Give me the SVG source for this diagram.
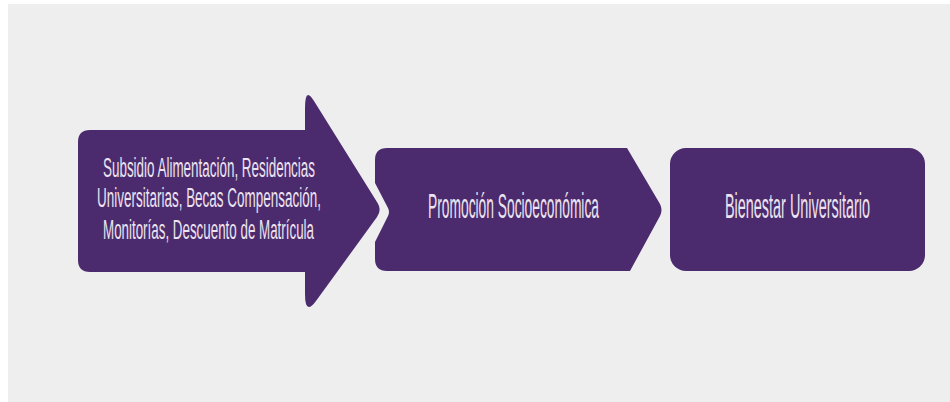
<svg xmlns="http://www.w3.org/2000/svg" width="950" height="402" viewBox="0 0 950 402">
  <style>
    .shape { fill: #4b2a6d; }
    .lbl { fill: #ebe3ef; font-family: "Liberation Sans Narrow", "Liberation Sans", sans-serif; }
    .s1 { font-size: 28px; }
    .s2 { font-size: 35px; }
  </style>
  <rect x="0" y="0" width="950" height="402" fill="#ffffff"/>
  <rect x="8" y="4" width="942" height="398" fill="#eeeeee"/>
  <g id="connectors"></g>
  <g id="node-subsidios">
    <path class="shape" d="M 90,130 L 305,130 L 305,108 Q 305,86 314,101 L 377.6,203 Q 382,210 377,217 L 316,301 Q 305,316 305,294 L 305,272 L 90,272 Q 78,272 78,260 L 78,142 Q 78,130 90,130 Z"/>
    <text class="lbl s1" transform="translate(103,177) scale(0.58,1)" x="0" y="0" textLength="365.5" lengthAdjust="spacingAndGlyphs">Subsidio Alimentación, Residencias</text>
    <text class="lbl s1" transform="translate(97,207) scale(0.58,1)" x="0" y="0" textLength="386.2" lengthAdjust="spacingAndGlyphs">Universitarias, Becas Compensación,</text>
    <text class="lbl s1" transform="translate(103,239) scale(0.58,1)" x="0" y="0" textLength="363.8" lengthAdjust="spacingAndGlyphs">Monitorías, Descuento de Matrícula</text>
  </g>
  <g id="node-promocion">
    <path class="shape" d="M 387,148 L 627,148 L 660,204 Q 663,210 660,216 L 630,271 L 387,271 Q 375,271 375,259 L 375,242 L 388,216 Q 390,212 388,208 L 375,183 L 375,160 Q 375,148 387,148 Z"/>
    <text class="lbl s2" transform="translate(428,218) scale(0.49,1)" x="0" y="0" textLength="349" lengthAdjust="spacingAndGlyphs">Promoción Socioeconómica</text>
  </g>
  <g id="node-bienestar">
    <rect class="shape" x="670" y="148" width="255" height="123" rx="16" ry="16"/>
    <text class="lbl s2" transform="translate(725,218) scale(0.49,1)" x="0" y="0" textLength="296" lengthAdjust="spacingAndGlyphs">Bienestar Universitario</text>
  </g>
</svg>
